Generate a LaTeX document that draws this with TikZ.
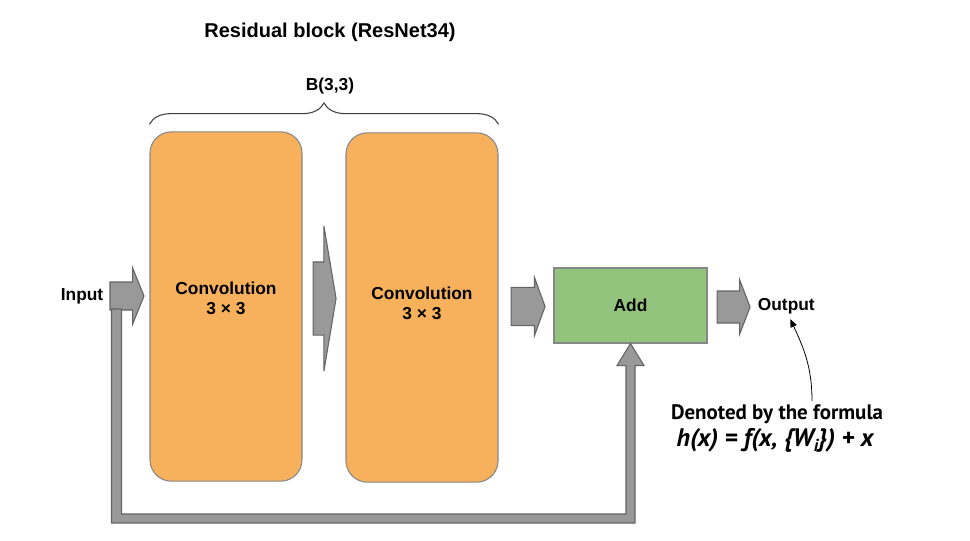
\documentclass[tikz,border=0pt]{standalone}
\usepackage{fontspec}
\setmainfont{Liberation Sans}
\newfontfamily\notefont{PT Sans}
\usetikzlibrary{positioning}
\usetikzlibrary{arrows.meta}
\usetikzlibrary{decorations.pathreplacing}
\usetikzlibrary{shapes.arrows}
\usetikzlibrary{calc}
\definecolor{convfill}{RGB}{247,176,91}
\definecolor{addfill}{RGB}{147,196,125}
\definecolor{arrfill}{RGB}{153,153,153}
\definecolor{arrline}{RGB}{100,100,100}
\definecolor{boxline}{RGB}{135,135,135}

\begin{document}
\begin{tikzpicture}[x=0.75pt,y=0.75pt]
        \tikzstyle{lbl}=[font=\fontsize{13}{15}\selectfont\bfseries,
            align=center, inner sep=0pt]
        \tikzstyle{conv}=[rectangle, rounded corners=16pt, fill=convfill,
            draw=boxline, line width=0.8pt, minimum width=114pt,
            minimum height=262pt]
        \tikzstyle{flow}=[single arrow, fill=arrfill, draw=arrline,
            line width=0.8pt, inner xsep=0pt, anchor=tail]
        \tikzstyle{note}=[inner sep=0pt,
            font=\notefont\bfseries\fontsize{15.7}{17}\selectfont]

            \useasboundingbox (0,0) rectangle (970,-540);

            \node[lbl, font=\fontsize{15}{17}\selectfont\bfseries]
            (title) at (330,-32) {Residual block (ResNet34)};

            \node[conv] (conv1) at (226,-306.5) {};
            \node[conv] (conv2) at (422,-307.5) {};
            \node[lbl] (txt1) at ($(conv1)+(0,8)$)
            {Convolution\\3 × 3};
            \node[lbl] (txt2) at ($(conv2)+(0,4.5)$)
            {Convolution\\3 × 3};

            \node[rectangle, fill=addfill, draw=boxline, line width=0.8pt,
            minimum width=114.75pt, minimum height=56.25pt, lbl]
            (add) at (630.5,-305.5) {Add};

            % block arrows between the boxes
            \node[flow, minimum height=25.5pt, inner ysep=10.1pt,
            single arrow head extend=10.5pt, single arrow tip angle=136]
            (inarr) at ($(conv1.west)+(-40,10.5)$) {};
            \node[flow, minimum height=17.25pt, inner ysep=27pt,
            single arrow head extend=27pt, single arrow tip angle=161]
            (midarr) at ($(conv1.east)+(10,8)$) {};
            \node[flow, minimum height=25.5pt, inner ysep=13.9pt,
            single arrow head extend=7.5pt, single arrow tip angle=140]
            (addarr) at ($(conv2.east)+(12,1)$) {};
            \node[flow, minimum height=24.75pt, inner ysep=11.6pt,
            single arrow head extend=8.25pt, single arrow tip angle=138]
            (outarr) at ($(add.east)+(9,-1.5)$) {};

            \node[lbl, anchor=east] (inlbl) at ($(inarr.tail)+(-6,0)$)
            {Input};
            \node[lbl, anchor=west] (outlbl) at ($(outarr.tip)+(7,1)$)
            {Output};

            % skip connection
            \coordinate (fbl) at ($(inarr.tail)+(2,-13)$);
            \coordinate (fbr) at ($(add.south)+(0,-22)$);
            \filldraw[fill=arrfill, draw=arrline, line width=0.8pt,
            line join=miter] (fbl) -- ++(0,-214)
            -| ($(fbr)+(4.5,0)$) -- ++(9,0) -- (add.south)
            -- ($(fbr)+(-13.5,0)$) -- ++(9,0) |- ($(fbl)+(10,-205)$)
            -- ++(0,205) -- cycle;

            \draw[decorate, decoration={brace, amplitude=16pt},
            draw=black!75, line width=0.8pt]
            ($(conv1.north west)+(0,7)$) --
            ($(conv2.east |- conv1.north)+(0,7)$);
            \node[lbl] (bdim) at (330,-86) {B(3,3)};

            \node[note] (note1) at (777,-414) {Denoted by the formula};
            \node[note, font=\notefont\bfseries\itshape\fontsize{19}{21}%
            \selectfont] (note2) at (775,-440)
            {h(x) = f(x, \{W\raisebox{-0.45ex}{\fontsize{13}{14}\selectfont i}\}) + x};

            \draw[-{Triangle[length=6pt,width=5pt]}, line width=0.6pt]
            ($(note1.north)+(35,3)$) to[out=90, in=-65]
            ($(outlbl.south)+(4,-5)$);
    \end{tikzpicture}
\end{document}
